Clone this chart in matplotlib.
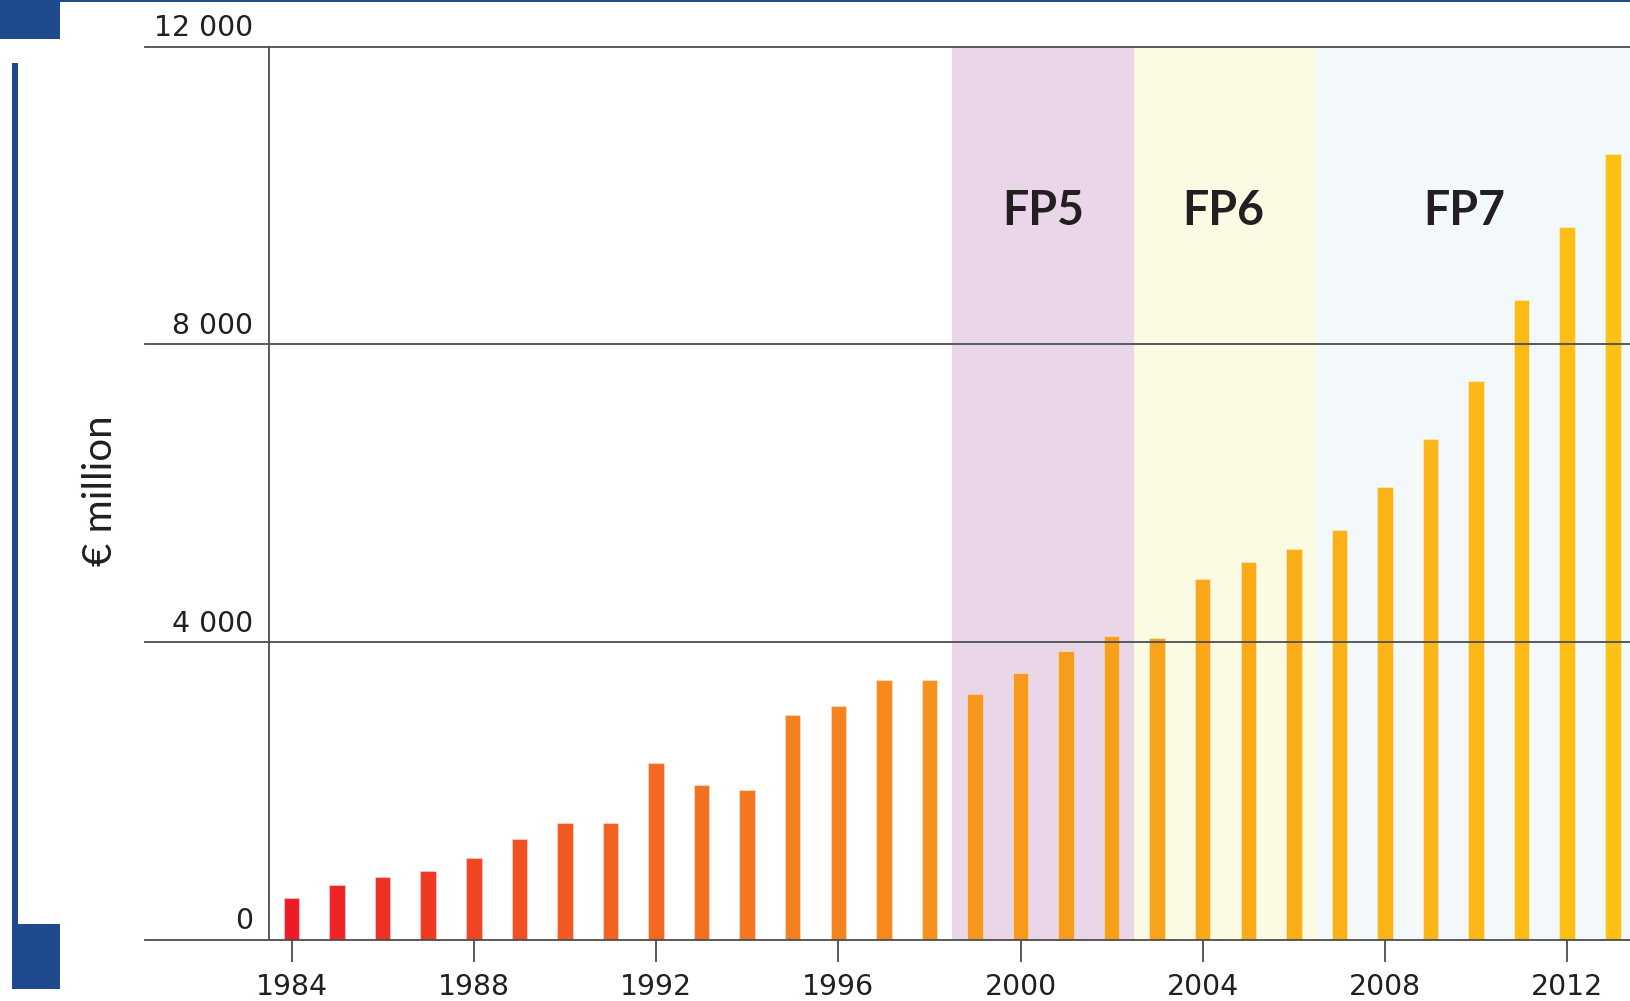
import numpy as np
import matplotlib
matplotlib.use("Agg")
import matplotlib.pyplot as plt
from matplotlib.colors import LinearSegmentedColormap
from matplotlib.patches import Rectangle

# data
years = list(range(1984, 2014))
budget = [560, 745, 845, 930, 1095, 1357, 1566, 1566, 2378, 2084,
          2014, 3021, 3147, 3488, 3488, 3303, 3581, 3885, 4083, 4062,
          4853, 5077, 5259, 5510, 6084, 6727, 7510, 8601, 9578, 10558]

programmes = ["FP5", "FP6", "FP7"]
prog_start = [1998.5, 2002.5, 2006.5]
prog_end = [2002.5, 2006.5, 2014.0]
prog_label_x = [2000.5, 2004.45, 2009.75]
prog_colors = ["#ead6e9", "#fbfbe3", "#f3f8fa"]

y_ticks = [0, 4000, 8000, 12000]
y_tick_labels = ["0", "4 000", "8 000", "12 000"]
x_ticks = list(range(1984, 2013, 4))

text_col = "#231f20"
grid_col = "#4d4d4d"
blue = "#1f4a8e"

W, H = 1631, 1001
fig = plt.figure(figsize=(W / 100, H / 100), dpi=100)

# axes from x=145 px to right edge, y=940 px (0) to 46.7 px (12000)
ax = fig.add_axes([145.3 / W, (H - 940) / H, 1 - 145.3 / W, (940 - 46.7) / H])
ax.set_xlim(1980.79, 2013.4)
ax.set_ylim(0, 12000)
for s in ax.spines.values():
    s.set_visible(False)

# programme bands
for name, x0, x1, c, lx in zip(programmes, prog_start, prog_end, prog_colors, prog_label_x):
    ax.axvspan(x0, x1, ymin=0, ymax=1, color=c, lw=0, zorder=0)
    ax.text(lx, 9604, name, ha="center", va="baseline", fontsize=33.5,
            fontweight="bold", family=["Lato", "DejaVu Sans"], color=text_col, zorder=5)

# bars, colour gradient red -> yellow
cmap = LinearSegmentedColormap.from_list(
    "ry", ["#ed1c24", "#f26522", "#f7941d", "#fbad18", "#fdc015"])
cols = [cmap(i / (len(years) - 1)) for i in range(len(years))]
ax.bar(years, budget, width=0.34, color=cols, edgecolor=(1, 1, 1, 0.35),
       linewidth=0.8, zorder=3)

# grid lines and y axis
for v in y_ticks:
    ax.axhline(v, color=grid_col, lw=1.3, zorder=4, clip_on=False)
ax.plot([1983.51, 1983.51], [0, 12000], color=grid_col, lw=1.3, zorder=4, clip_on=False)

for v, lab in zip(y_ticks, y_tick_labels):
    ax.text(1983.15, v + 144, lab, ha="right", va="baseline", fontsize=20.4,
            color=text_col, family="DejaVu Sans")

ax.set_yticks([])
ax.set_xticks(x_ticks)
ax.set_xticklabels([str(x) for x in x_ticks], fontsize=20.4, color=text_col)
ax.tick_params(axis="x", length=15.8, width=1.3, color=grid_col, pad=8, direction="out")

fig.text(101 / W, 1 - 491 / H, "€ million", rotation=90, ha="center", va="center",
         fontsize=29, fontweight="normal", family=["Lato", "DejaVu Sans"], color=text_col)

# blue frame decorations
deco = [(0, 0, W, 2), (0, 0, 60, 39), (12.3, 63, 6, 870), (12.3, 924, 47.7, 65)]
for x, y, w, h in deco:
    fig.patches.append(Rectangle((x / W, 1 - (y + h) / H), w / W, h / H,
                                 transform=fig.transFigure, color=blue, lw=0))

fig.savefig("out.png", dpi=100)
